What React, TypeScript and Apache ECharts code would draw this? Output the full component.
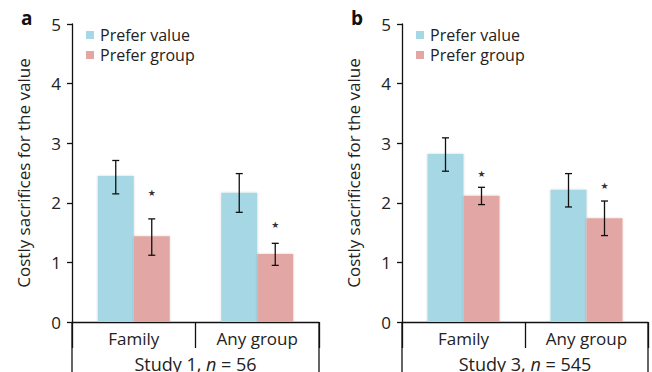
import React, { useEffect, useRef } from "react";
import * as echarts from "echarts";

const categories = ["Family", "Any group"];
const seriesNames = ["Prefer value", "Prefer group"];
const yTicks = [0, 1, 2, 3, 4, 5];

// Study 1
const s1ValueMean = [2.45, 2.17];
const s1ValueLow = [2.15, 1.84];
const s1ValueHigh = [2.71, 2.49];
const s1GroupMean = [1.44, 1.14];
const s1GroupLow = [1.12, 0.95];
const s1GroupHigh = [1.73, 1.32];
const s1Star = [2.17, 1.62];

// Study 3
const s3ValueMean = [2.82, 2.22];
const s3ValueLow = [2.53, 1.93];
const s3ValueHigh = [3.09, 2.49];
const s3GroupMean = [2.12, 1.74];
const s3GroupLow = [1.97, 1.45];
const s3GroupHigh = [2.26, 2.03];
const s3Star = [2.48, 2.29];

const panelLabels = ["a", "b"];
const studyLabels = [
  { study: "Study 1, ", n: "56" },
  { study: "Study 3, ", n: "545" },
];

const BLUE = "#a6d7e4";
const PINK = "#e2a7a5";
const INK = "#222";
const FONT = "'Open Sans', 'Noto Sans', sans-serif";
const BAR_W = 36;

const W = 652;
const H = 372;
const GRID_TOP = 24;
const GRID_BOTTOM = 50;
const grids = [
  { left: 72, right: 319 },
  { left: 402, right: 648 },
];

function errorSeries(gi: number, low: number[], high: number[], offset: number) {
  return {
    type: "custom",
    xAxisIndex: gi,
    yAxisIndex: gi,
    silent: true,
    z: 5,
    data: low.map((l, i) => [i, l, high[i]]),
    renderItem: (params: any, api: any) => {
      const lo = api.coord([api.value(0), api.value(1)]);
      const hi = api.coord([api.value(0), api.value(2)]);
      const x = lo[0] + offset;
      const cap = 3.5;
      const style = { stroke: "#111", lineWidth: 1.3 };
      return {
        type: "group",
        children: [
          { type: "line", shape: { x1: x, y1: lo[1], x2: x, y2: hi[1] }, style },
          { type: "line", shape: { x1: x - cap, y1: lo[1], x2: x + cap, y2: lo[1] }, style },
          { type: "line", shape: { x1: x - cap, y1: hi[1], x2: x + cap, y2: hi[1] }, style },
        ],
      };
    },
  };
}

function starSeries(gi: number, stars: number[]) {
  return {
    type: "custom",
    xAxisIndex: gi,
    yAxisIndex: gi,
    silent: true,
    z: 5,
    data: stars.map((s, i) => [i, s]),
    renderItem: (params: any, api: any) => {
      const p = api.coord([api.value(0), api.value(1)]);
      return {
        type: "text",
        x: p[0] + BAR_W / 2,
        y: p[1],
        style: {
          text: "★",
          fontSize: 9,
          fill: "#333",
          align: "center",
          verticalAlign: "middle",
          fontFamily: "DejaVu Sans",
        },
      };
    },
  };
}

function barSeries(gi: number, name: string, data: number[], color: string) {
  return {
    type: "bar",
    name,
    xAxisIndex: gi,
    yAxisIndex: gi,
    data,
    barWidth: BAR_W,
    barGap: "0%",
    itemStyle: {
      color,
      shadowColor: "rgba(0,0,0,0.18)",
      shadowBlur: 2,
    },
  };
}

export default function App() {
  const ref = useRef<HTMLDivElement>(null);
  useEffect(() => {
    if (!ref.current) return;
    const chart = echarts.init(ref.current, undefined, { renderer: "svg" });

    const lineStyle = { color: "#111", width: 1.3 };

    const option: any = {
      animation: false,
      backgroundColor: "#fff",
      textStyle: { fontFamily: FONT },
      grid: grids.map((g) => ({
        left: g.left,
        width: g.right - g.left,
        top: GRID_TOP,
        bottom: GRID_BOTTOM,
        containLabel: false,
      })),
      title: panelLabels.map((t, i) => ({
        text: t,
        left: i === 0 ? 16 : 346,
        top: 3,
        textStyle: { fontSize: 19, fontWeight: "bold", color: "#111", fontFamily: FONT },
      })),
      legend: grids.map((g) => ({
        data: seriesNames,
        orient: "vertical",
        left: g.left + 9,
        top: 22,
        itemWidth: 8,
        itemHeight: 8,
        itemGap: 4,
        icon: "rect",
        selectedMode: false,
        textStyle: { fontSize: 16, color: INK, fontFamily: FONT, lineHeight: 16, padding: [0, 0, 0, 1] },
      })),
      xAxis: grids.map((g, gi) => ({
        type: "category",
        gridIndex: gi,
        data: categories,
        axisLine: { lineStyle },
        axisTick: { show: true, length: 26, lineStyle, alignWithLabel: false },
        axisLabel: { fontSize: 17, color: INK, margin: 8, fontFamily: FONT },
      })),
      yAxis: grids.map((g, gi) => ({
        type: "value",
        gridIndex: gi,
        min: yTicks[0],
        max: yTicks[yTicks.length - 1],
        interval: 1,
        name: "Costly sacrifices for the value",
        nameLocation: "middle",
        nameGap: 40,
        nameTextStyle: { fontSize: 17, color: INK, fontFamily: FONT },
        axisLine: { show: true, lineStyle },
        axisTick: { show: true, length: 5, lineStyle },
        axisLabel: { fontSize: 17, color: INK, margin: 11, fontFamily: FONT },
        splitLine: { show: false },
      })),
      series: [
        barSeries(0, seriesNames[0], s1ValueMean, BLUE),
        barSeries(0, seriesNames[1], s1GroupMean, PINK),
        errorSeries(0, s1ValueLow, s1ValueHigh, -BAR_W / 2),
        errorSeries(0, s1GroupLow, s1GroupHigh, BAR_W / 2),
        starSeries(0, s1Star),
        barSeries(1, seriesNames[0], s3ValueMean, BLUE),
        barSeries(1, seriesNames[1], s3GroupMean, PINK),
        errorSeries(1, s3ValueLow, s3ValueHigh, -BAR_W / 2),
        errorSeries(1, s3GroupLow, s3GroupHigh, BAR_W / 2),
        starSeries(1, s3Star),
      ],
      graphic: [
        ...grids.flatMap((g) => [
          { type: "line", shape: { x1: g.left, y1: H - GRID_BOTTOM, x2: g.left, y2: H }, style: { stroke: "#111", lineWidth: 1.3 } },
          { type: "line", shape: { x1: g.right, y1: H - GRID_BOTTOM, x2: g.right, y2: H }, style: { stroke: "#111", lineWidth: 1.3 } },
        ]),
        ...grids.map((g, i) => ({
          type: "text",
          x: (g.left + g.right) / 2,
          y: 355,
          style: {
            text: `{a|${studyLabels[i].study}}{i|n}{a| = ${studyLabels[i].n}}`,
            align: "center",
            verticalAlign: "top",
            rich: {
              a: { fontSize: 18, fill: INK, fontFamily: FONT },
              i: { fontSize: 18, fill: INK, fontFamily: FONT, fontStyle: "italic" },
            },
          },
        })),
      ],
    };
    chart.setOption(option);
    return () => chart.dispose();
  }, []);
  return (
    <div
      ref={ref}
      style={{ position: "absolute", left: 0, top: 0, width: W, height: H }}
    />
  );
}
